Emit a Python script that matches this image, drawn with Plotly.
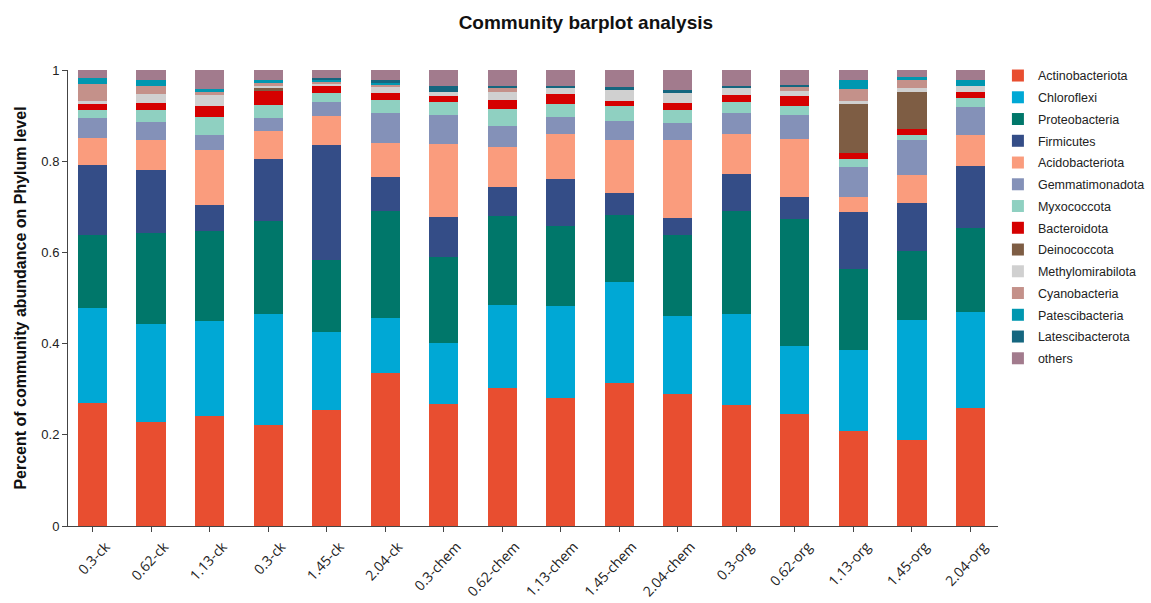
import plotly.graph_objects as go

samples = ["0.3-ck", "0.62-ck", "1.13-ck", "0.3-ck", "1.45-ck", "2.04-ck",
           "0.3-chem", "0.62-chem", "1.13-chem", "1.45-chem", "2.04-chem",
           "0.3-org", "0.62-org", "1.13-org", "1.45-org", "2.04-org"]

phyla = ["Actinobacteriota", "Chloroflexi", "Proteobacteria", "Firmicutes",
         "Acidobacteriota", "Gemmatimonadota", "Myxococcota", "Bacteroidota",
         "Deinococcota", "Methylomirabilota", "Cyanobacteria", "Patescibacteria",
         "Latescibacterota", "others"]

Actinobacteriota = [0.269, 0.227, 0.242, 0.221, 0.254, 0.335, 0.267, 0.303,
                    0.280, 0.313, 0.289, 0.265, 0.246, 0.208, 0.188, 0.259]
Chloroflexi = [0.208, 0.215, 0.208, 0.245, 0.172, 0.122, 0.135, 0.182,
               0.202, 0.223, 0.172, 0.199, 0.149, 0.178, 0.264, 0.211]
Proteobacteria = [0.161, 0.201, 0.197, 0.203, 0.157, 0.234, 0.189, 0.195,
                  0.176, 0.147, 0.177, 0.227, 0.278, 0.177, 0.151, 0.183]
Firmicutes = [0.154, 0.138, 0.057, 0.135, 0.253, 0.075, 0.087, 0.063,
              0.104, 0.048, 0.037, 0.082, 0.049, 0.125, 0.106, 0.136]
Acidobacteriota = [0.058, 0.065, 0.121, 0.062, 0.063, 0.075, 0.160, 0.089,
                   0.098, 0.115, 0.171, 0.086, 0.126, 0.034, 0.061, 0.068]
Gemmatimonadota = [0.044, 0.041, 0.032, 0.028, 0.031, 0.064, 0.063, 0.046,
                   0.036, 0.042, 0.037, 0.047, 0.053, 0.065, 0.076, 0.061]
Myxococcota = [0.018, 0.025, 0.041, 0.029, 0.020, 0.029, 0.028, 0.036,
               0.029, 0.033, 0.029, 0.023, 0.021, 0.017, 0.011, 0.020]
Bacteroidota = [0.013, 0.015, 0.022, 0.032, 0.015, 0.016, 0.013, 0.020,
                0.022, 0.011, 0.016, 0.016, 0.020, 0.015, 0.013, 0.013]
Deinococcota = [0.0, 0.0, 0.0, 0.007, 0.0, 0.0, 0.0, 0.0,
                0.0, 0.0, 0.0, 0.0, 0.0, 0.106, 0.082, 0.0]
Methylomirabilota = [0.007, 0.020, 0.025, 0.003, 0.005, 0.012, 0.010, 0.018,
                     0.015, 0.024, 0.022, 0.015, 0.013, 0.006, 0.008, 0.014]
Cyanobacteria = [0.037, 0.019, 0.007, 0.006, 0.003, 0.006, 0.0, 0.008,
                 0.0, 0.0, 0.0, 0.0, 0.007, 0.027, 0.017, 0.0]
Patescibacteria = [0.013, 0.011, 0.006, 0.007, 0.006, 0.004, 0.0, 0.0,
                   0.0, 0.0, 0.0, 0.0, 0.0, 0.019, 0.008, 0.012]
Latescibacterota = [0.0, 0.0, 0.0, 0.0, 0.004, 0.005, 0.014, 0.005,
                    0.004, 0.006, 0.006, 0.006, 0.005, 0.0, 0.0, 0.0]
others = [0.018, 0.023, 0.042, 0.022, 0.017, 0.023, 0.034, 0.035,
          0.034, 0.038, 0.044, 0.034, 0.033, 0.023, 0.015, 0.023]

series = [Actinobacteriota, Chloroflexi, Proteobacteria, Firmicutes,
          Acidobacteriota, Gemmatimonadota, Myxococcota, Bacteroidota,
          Deinococcota, Methylomirabilota, Cyanobacteria, Patescibacteria,
          Latescibacterota, others]

colors = ["#E84E30", "#00A8D5", "#00776A", "#344D87", "#FA9C7D", "#8491B8",
          "#8FD0C1", "#D50000", "#7E5D44", "#D0D0D0", "#C4918A", "#0097B0",
          "#15667F", "#A27B8D"]

positions = list(range(len(samples)))

fig = go.Figure()
for name, vals, col in zip(phyla, series, colors):
    fig.add_trace(go.Bar(
        x=positions, y=vals, name=name, legendgroup=name,
        marker=dict(color=col, line=dict(width=0)),
        width=0.5,
    ))

font_family = "Liberation Sans, Arial, sans-serif"

fig.update_layout(
    barmode="stack",
    width=1151, height=603,
    paper_bgcolor="white", plot_bgcolor="white",
    margin=dict(l=68, r=141, t=70, b=77),
    font=dict(family=font_family, color="#222"),
    title=dict(text="<b>Community barplot analysis</b>", x=0.509, xanchor="center",
               y=0.963, yanchor="middle", font=dict(size=19, color="#111")),
    showlegend=True,
    legend=dict(xref="container", yref="container",
                x=0.867, xanchor="left", y=0.899, yanchor="top",
                traceorder="grouped", tracegroupgap=2.5, maxheight=560,
                font=dict(size=12.5, color="#222"), bgcolor="rgba(0,0,0,0)"),
    xaxis=dict(
        range=[-0.42, 15.47], tickmode="array", tickvals=positions, ticktext=samples,
        tickangle=-47, tickfont=dict(family="Open Sans, sans-serif", size=14, color="#222"),
        ticklabelshift=13, ticklabelstandoff=1,
        showline=True, linecolor="#444", linewidth=1,
        ticks="outside", ticklen=5, tickcolor="#444",
        showgrid=False, zeroline=False, automargin=False,
    ),
    yaxis=dict(
        range=[0, 1], tickmode="array", tickvals=[0, 0.2, 0.4, 0.6, 0.8, 1],
        ticktext=["0", "0.2", "0.4", "0.6", "0.8", "1"],
        tickfont=dict(size=13, color="#222"),
        showline=True, linecolor="#444", linewidth=1,
        ticks="outside", ticklen=5, tickcolor="#444",
        showgrid=False, zeroline=False, automargin=False,
        title=dict(text="<b>Percent of community abundance on Phylum level</b>",
                   font=dict(size=16, color="#111"), standoff=10),
    ),
)

fig.write_html("out.html")
